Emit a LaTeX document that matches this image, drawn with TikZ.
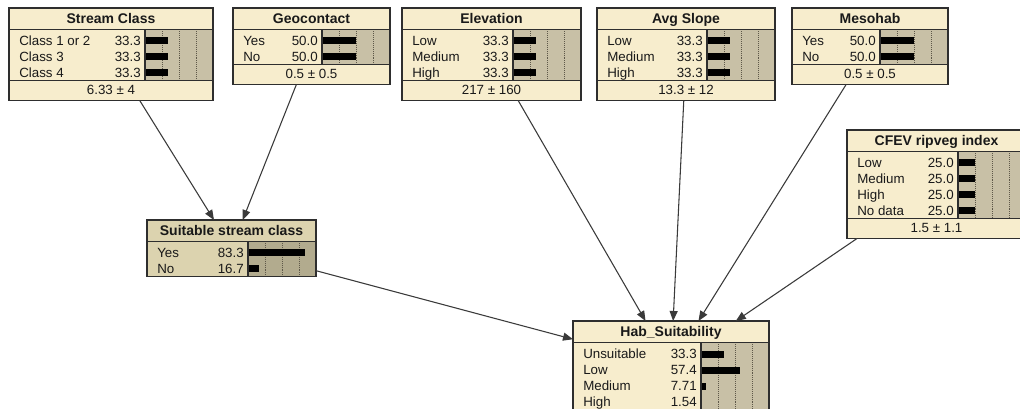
\documentclass[tikz,border=0pt]{standalone}
\usepackage{fontspec}
\setmainfont{Liberation Sans}
\usetikzlibrary{arrows.meta}

\definecolor{cream}{HTML}{F7EDCD}
\definecolor{suitfill}{HTML}{DCD3AF}
\definecolor{gridc}{HTML}{5E5849}
\definecolor{edgec}{HTML}{2E2E2E}
\definecolor{linkc}{HTML}{3A3A3A}

\tikzset{
  x=0.75pt, y=-0.75pt,
  edgeline/.style={draw=edgec, line width=1pt},
  gridline/.style={draw=gridc, line width=0.45pt, densely dotted},
  barc/.style={fill=black},
  statetext/.style={inner sep=0pt, font=\fontsize{10}{12}\selectfont, text=black!90},
  titletext/.style={inner sep=0pt, font=\fontsize{10.5}{12}\selectfont\bfseries, text=black!90},
  link/.style={draw=linkc, line width=0.8pt, -{Triangle[length=7.5pt, width=6pt]}},
}

% Belief-bar node: [head colour]{name}{left}{top}{right}{rows}{title}{state/value/percent,...}{footer}
\newcommand{\bnnode}[9][cream]{%
  \pgfmathsetmacro\bnL{#3}%
  \pgfmathsetmacro\bnT{#4}%
  \pgfmathsetmacro\bnR{#5}%
  \pgfmathsetmacro\bnB{#5-68}%
  \pgfmathsetmacro\bnTs{#4+21.5}%
  \pgfmathsetmacro\bnBs{\bnTs+16*#6+3}%
  \if\relax\detokenize{#9}\relax
    \let\bnBot\bnBs
  \else
    \pgfmathsetmacro\bnBot{\bnBs+20}%
  \fi
  \fill[#1] (\bnL,\bnT) rectangle (\bnR,\bnBot);
  \fill[#1!81!black] (\bnB,\bnTs) rectangle (\bnR,\bnBs);
  \foreach \g in {0.25,0.5,0.75}
    \draw[gridline] ({\bnB+68*\g},\bnTs) -- ({\bnB+68*\g},\bnBs);
  \foreach \s/\v/\p [count=\i from 0] in {#8} {
    \pgfmathsetmacro\yy{\bnTs+11.5+16*\i}
    \fill[barc] (\bnB,\yy-3.5) rectangle ({\bnB+0.68*\p},\yy+3.5);
    \node[statetext, anchor=base west] at (\bnL+10,\yy+4.8) {\s};
    \node[statetext, anchor=base east] at (\bnB-4,\yy+4.8) {\v};
  }
  \draw[edgeline] (\bnL,\bnT) rectangle (\bnR,\bnBot);
  \draw[edgeline] (\bnL,\bnTs) -- (\bnR,\bnTs);
  \draw[edgeline] (\bnB,\bnTs) -- (\bnB,\bnBs);
  \node[titletext, anchor=base] at ({(\bnL+\bnR)/2},\bnTs-6.3) {#7};
  \if\relax\detokenize{#9}\relax\else
    \draw[edgeline] (\bnL,\bnBs) -- (\bnR,\bnBs);
    \node[statetext, anchor=base] at ({(\bnL+\bnR)/2},\bnBs+14.5) {#9};
  \fi
  \pgfmathsetmacro\bnW{(\bnR-\bnL)*0.75}%
  \pgfmathsetmacro\bnH{(\bnBot-\bnT)*0.75}%
  \node[inner sep=0pt, outer sep=0pt, minimum width=\bnW pt, minimum height=\bnH pt,
        anchor=north west] (#2) at (\bnL,\bnT) {};
}

\begin{document}
\begin{tikzpicture}
\useasboundingbox (0,0) rectangle (1020,409);
\clip (0,0) rectangle (1020,409);
\fill[white] (0,0) rectangle (1020,409);

\bnnode{stream}{9}{8}{213}{3}{Stream Class}
  {Class 1 or 2/33.3/33.3, Class 3/33.3/33.3, Class 4/33.3/33.3}{6.33 ± 4}
\bnnode{geo}{233}{8}{390}{2}{Geocontact}
  {Yes/50.0/50, No/50.0/50}{0.5 ± 0.5}
\bnnode{elev}{402}{8}{581}{3}{Elevation}
  {Low/33.3/33.3, Medium/33.3/33.3, High/33.3/33.3}{217 ± 160}
\bnnode{slope}{597}{8}{775}{3}{Avg Slope}
  {Low/33.3/33.3, Medium/33.3/33.3, High/33.3/33.3}{13.3 ± 12}
\bnnode{meso}{792}{8}{948}{2}{Mesohab}
  {Yes/50.0/50, No/50.0/50}{0.5 ± 0.5}
\bnnode{cfev}{847}{130}{1026}{4}{CFEV ripveg index}
  {Low/25.0/25, Medium/25.0/25, High/25.0/25, No data/25.0/25}{1.5 ± 1.1}
\bnnode[suitfill]{suit}{147}{220}{316}{2}{Suitable stream class}
  {Yes/83.3/83.3, No/16.7/16.7}{}
\bnnode{hab}{573}{321}{769}{4}{Hab\_Suitability}
  {Unsuitable/33.3/33.3, Low/57.4/57.4, Medium/7.71/7.71, High/1.54/1.54}{}

% influence links
\draw[link] (stream) -- (suit);
\draw[link] (geo) -- (suit);
\draw[link] (suit) -- (hab);
\draw[link] (elev) -- (hab);
\draw[link] (slope) -- (hab);
\draw[link] (meso) -- (hab);
\draw[link] (cfev) -- (hab);
\end{tikzpicture}
\end{document}
